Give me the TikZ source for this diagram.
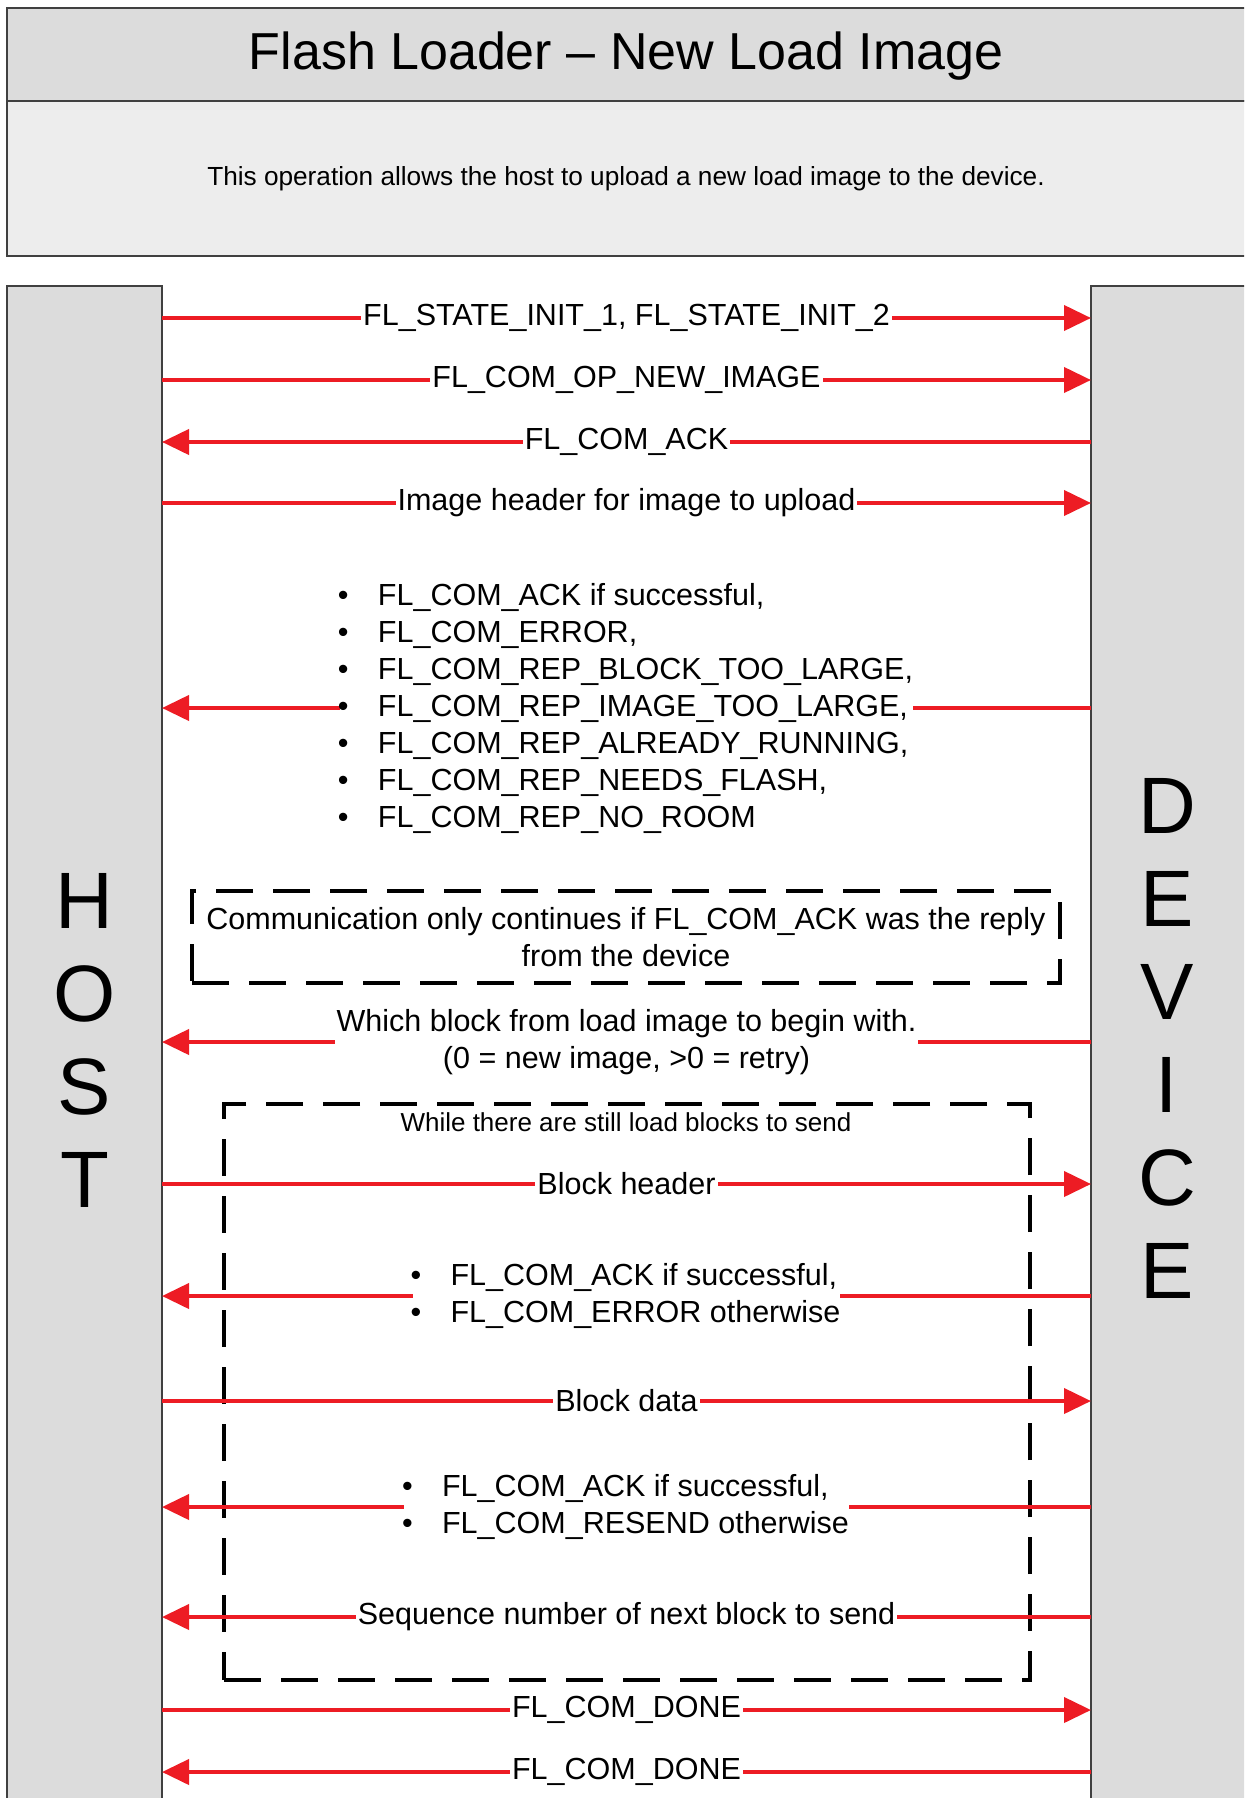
\documentclass[tikz,border=0pt]{standalone}
\usepackage{fontspec}
\setmainfont{Liberation Sans}
\usetikzlibrary{arrows.meta}
\definecolor{arrowred}{HTML}{ED1C24}
\definecolor{bargray}{HTML}{DCDCDC}
\definecolor{descgray}{HTML}{EDEDED}
\definecolor{edgegray}{HTML}{404040}
\newcommand{\fbul}{\makebox[19pt][l]{\kern-1pt•}}
\begin{document}
\begin{tikzpicture}[x=0.5pt,y=-0.5pt,
  panel/.style={draw=edgegray,line width=1pt},
  msg/.style={draw=arrowred,line width=2pt,-{Triangle[length=13.5pt,width=12.5pt]}},
  lbl/.style={fill=white,inner xsep=1pt,inner ysep=1pt,font=\fontsize{15.25}{18.5}\selectfont},
  blist/.style={fill=white,inner xsep=0pt,inner ysep=1pt,align=left,font=\fontsize{15.25}{18.5}\selectfont},
  loopbox/.style={draw=black,line width=2pt,dash pattern=on 18.5pt off 10pt},
  big/.style={font=\fontsize{40}{46.5}\selectfont,align=center}
]
\useasboundingbox (0,0) rectangle (1244,1798);
\clip (0,0) rectangle (1244,1798);
\fill[white] (0,0) rectangle (1244,1798);

% header panels
\path[panel,fill=bargray] (7,8) rectangle (1260,101);
\path[panel,fill=descgray] (7,101) rectangle (1260,256);
\node[font=\fontsize{26}{30}\selectfont] (title) at (626,56) {Flash Loader – New Load Image};
\node[font=\fontsize{13.1}{16}\selectfont] (desc) at (626,179) {This operation allows the host to upload a new load image to the device.};

% lifeline bars
\path[panel,fill=bargray] (7,286) rectangle (162,1810);
\path[panel,fill=bargray] (1091,286) rectangle (1260,1810);
\node[big] (host) at (84.5,1040) {H\\O\\S\\T};
\node[big] (device) at (1167,1038) {D\\E\\V\\I\\C\\E};

% coordinates on the bars
\foreach \n/\y in {1/318,2/380,3/442,4/503,5/708,6/1042,7/1184,8/1296,9/1401,10/1507,11/1617,12/1710,13/1772}{
  \coordinate (h\n) at (162,\y);
  \coordinate (d\n) at (1091,\y);
}

% dashed boxes
\node[loopbox,minimum width=434pt,minimum height=46pt,align=center,inner sep=0pt,
  font=\fontsize{15.25}{18.5}\selectfont] (cond) at (626,937)
  {Communication only continues if FL\_COM\_ACK was the reply\\from the device};
\node[loopbox,minimum width=403pt,minimum height=288pt,inner sep=0pt] (loop) at (627,1392) {};
\node[font=\fontsize{13}{16}\selectfont] (looplbl) at (626,1122) {While there are still load blocks to send};

% messages
\draw[msg] (h1) -- (d1) node[midway,lbl] {FL\_STATE\_INIT\_1, FL\_STATE\_INIT\_2};
\draw[msg] (h2) -- (d2) node[midway,lbl] {FL\_COM\_OP\_NEW\_IMAGE};
\draw[msg] (d3) -- (h3) node[midway,lbl] {FL\_COM\_ACK};
\draw[msg] (h4) -- (d4) node[midway,lbl] {Image header for image to upload};
\draw[msg] (d5) -- (h5) node[midway,blist] {\fbul FL\_COM\_ACK if successful,\\
  \fbul FL\_COM\_ERROR,\\
  \fbul FL\_COM\_REP\_BLOCK\_TOO\_LARGE,\\
  \fbul FL\_COM\_REP\_IMAGE\_TOO\_LARGE,\\
  \fbul FL\_COM\_REP\_ALREADY\_RUNNING,\\
  \fbul FL\_COM\_REP\_NEEDS\_FLASH,\\
  \fbul FL\_COM\_REP\_NO\_ROOM};
\draw[msg] (d6) -- (h6) node[midway,lbl,align=center] {Which block from load image to begin with.\\(0 = new image, >0 = retry)};
\draw[msg] (h7) -- (d7) node[midway,lbl] {Block header};
\draw[msg] (d8) -- (h8) node[midway,blist] {\fbul FL\_COM\_ACK if successful,\\
  \fbul FL\_COM\_ERROR otherwise};
\draw[msg] (h9) -- (d9) node[midway,lbl] {Block data};
\draw[msg] (d10) -- (h10) node[midway,blist] {\fbul FL\_COM\_ACK if successful,\\
  \fbul FL\_COM\_RESEND otherwise};
\draw[msg] (d11) -- (h11) node[midway,lbl] {Sequence number of next block to send};
\draw[msg] (h12) -- (d12) node[midway,lbl] {FL\_COM\_DONE};
\draw[msg] (d13) -- (h13) node[midway,lbl] {FL\_COM\_DONE};
\end{tikzpicture}
\end{document}
